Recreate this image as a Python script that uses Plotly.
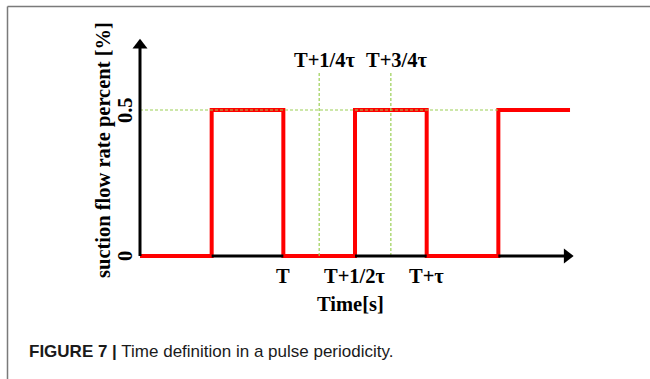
import plotly.graph_objects as go

# ---- data (time in half-period units, flow rate fraction) ----
pulse_t = [0, 1, 2, 3, 4, 5, 6]
pulse_q = [0, 0.5, 0, 0.5, 0, 0.5, 0.5]
level_q = 0.5
quarter_t = [2.5, 3.5]
quarter_labels = ["T+1/4τ", "T+3/4τ"]
tick_t = [2, 3, 4]
tick_labels = ["T", "T+1/2τ", "T+τ"]
y_ticks = [0, 0.5]
y_tick_labels = ["0", "0.5"]

W, H = 650, 379
ML, MR, MT, MB = 130, 60, 30, 113
PW, PH = W - ML - MR, H - MT - MB


def px(x):
    return (x - ML) / PW


def py(y):
    return (H - MB - y) / PH


SERIF = "Liberation Serif"
FS = 20.5
GREEN = "#9ccf55"
fig = go.Figure()

# pulse
fig.add_trace(go.Scatter(x=pulse_t, y=pulse_q, mode="lines", line_shape="hv",
                         line=dict(color="#ff0000", width=4), hoverinfo="skip"))

# green reference lines
fig.add_trace(go.Scatter(x=[0, 5], y=[level_q, level_q], mode="lines",
                         line=dict(color=GREEN, width=1.2, dash="3px,2px"), hoverinfo="skip"))
for qt in quarter_t:
    fig.add_trace(go.Scatter(x=[qt, qt], y=[0, 0.627], mode="lines",
                             line=dict(color=GREEN, width=1.2, dash="3px,2px"), hoverinfo="skip"))

# axes with arrows
fig.add_trace(go.Scatter(x=[0, 0], y=[0, 0.715], mode="lines",
                         line=dict(color="black", width=3), hoverinfo="skip"))
fig.add_trace(go.Scatter(x=[0], y=[0.722], mode="markers",
                         marker=dict(symbol="triangle-up", size=13, color="black"), hoverinfo="skip"))
fig.add_trace(go.Scatter(x=[1, 2], y=[0, 0], mode="lines",
                         line=dict(color="black", width=3), hoverinfo="skip"))
fig.add_trace(go.Scatter(x=[3, 4], y=[0, 0], mode="lines",
                         line=dict(color="black", width=3), hoverinfo="skip"))
fig.add_trace(go.Scatter(x=[5, 5.93], y=[0, 0], mode="lines",
                         line=dict(color="black", width=3), hoverinfo="skip"))
fig.add_trace(go.Scatter(x=[5.96], y=[0], mode="markers",
                         marker=dict(symbol="triangle-right", size=13, color="black"), hoverinfo="skip"))

ann = []
for t, lab in zip(tick_t, tick_labels):
    ann.append(dict(x=t, y=0, xref="x", yref="y", text="<b>" + lab + "</b>", showarrow=False,
                    yshift=-20, font=dict(family=SERIF, size=FS, color="black"),
                    xanchor="center", yanchor="middle"))
for t, lab in zip(quarter_t, quarter_labels):
    ann.append(dict(x=t, y=py(60), xref="x", yref="paper", text="<b>" + lab + "</b>",
                    showarrow=False, xshift=6, font=dict(family=SERIF, size=FS, color="black"),
                    xanchor="center", yanchor="middle"))
for v, lab in zip(y_ticks, y_tick_labels):
    ann.append(dict(x=px(125), y=v, xref="paper", yref="y", text="<b>" + lab + "</b>",
                    showarrow=False, textangle=-90,
                    font=dict(family=SERIF, size=FS, color="black"),
                    xanchor="center", yanchor="middle"))
ann.append(dict(x=px(350), y=py(304), xref="paper", yref="paper", text="<b>Time[s]</b>",
                showarrow=False, font=dict(family=SERIF, size=FS, color="black"),
                xanchor="center", yanchor="middle"))
ann.append(dict(x=px(103), y=py(150), xref="paper", yref="paper",
                text="<b>suction flow rate percent [%]</b>", textangle=-90,
                showarrow=False, font=dict(family=SERIF, size=FS, color="black"),
                xanchor="center", yanchor="middle"))
ann.append(dict(x=px(27), y=py(351), xref="paper", yref="paper",
                text="<b>FIGURE 7 |</b> Time definition in a pulse periodicity.",
                showarrow=False, font=dict(family="Liberation Sans", size=17, color="#1a1a1a"),
                xanchor="left", yanchor="middle"))

shapes = [
    dict(type="line", xref="paper", yref="paper", x0=px(7.5), x1=px(651), y0=py(6.5), y1=py(6.5),
         line=dict(color="#7a7a7a", width=1.5)),
    dict(type="line", xref="paper", yref="paper", x0=px(7.5), x1=px(7.5), y0=py(6.5), y1=py(380),
         line=dict(color="#7a7a7a", width=1.5)),
]

fig.update_layout(
    width=W, height=H,
    margin=dict(l=ML, r=MR, t=MT, b=MB),
    paper_bgcolor="white", plot_bgcolor="white",
    showlegend=False,
    xaxis=dict(range=[-10 / 71.67, -10 / 71.67 + PW / 71.67], visible=False, fixedrange=True),
    yaxis=dict(range=[-10 / 292, -10 / 292 + PH / 292], visible=False, fixedrange=True),
    annotations=ann, shapes=shapes,
)

fig.write_html("out.html")
